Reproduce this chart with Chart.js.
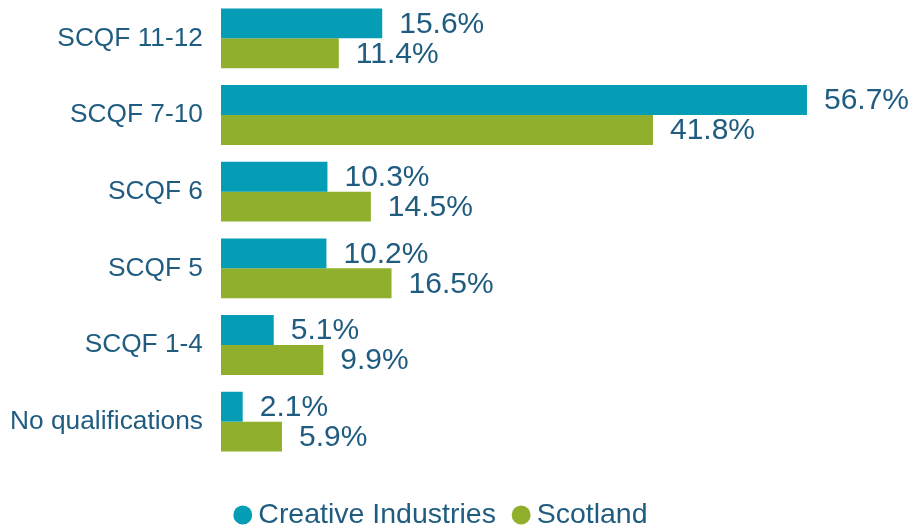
<!DOCTYPE html>
<html>
<head>
<meta charset="utf-8">
<script src="https://cdn.jsdelivr.net/npm/chart.js@4/dist/chart.umd.min.js"></script>
<style>
  html, body { margin: 0; padding: 0; background: #ffffff; }
  #wrap { width: 909px; height: 527px; position: relative; }
</style>
</head>
<body>
<div id="wrap"><canvas id="c"></canvas></div>
<script>
const categories = ['SCQF 11-12', 'SCQF 7-10', 'SCQF 6', 'SCQF 5', 'SCQF 1-4', 'No qualifications'];
const creativeIndustries = [15.6, 56.7, 10.3, 10.2, 5.1, 2.1];
const scotland = [11.4, 41.8, 14.5, 16.5, 9.9, 5.9];
const seriesNames = ['Creative Industries', 'Scotland'];

const TEXT = '#1F5C80';
const FONT = "Arial, 'Liberation Sans', sans-serif";

const valueLabels = {
  id: 'valueLabels',
  afterDatasetsDraw(chart) {
    const ctx = chart.ctx;
    ctx.save();
    ctx.font = '30px ' + FONT;
    ctx.fillStyle = TEXT;
    ctx.textAlign = 'left';
    ctx.textBaseline = 'middle';
    chart.data.datasets.forEach((ds, di) => {
      const meta = chart.getDatasetMeta(di);
      meta.data.forEach((bar, i) => {
        ctx.fillText(ds.data[i].toFixed(1) + '%', bar.x + 17, bar.y + 1);
      });
    });
    ctx.restore();
  }
};

const chart = new Chart(document.getElementById('c'), {
  type: 'bar',
  data: {
    labels: categories,
    datasets: [
      { label: seriesNames[0], data: creativeIndustries, backgroundColor: '#049DB5', categoryPercentage: 0.78, barPercentage: 1.0 },
      { label: seriesNames[1], data: scotland, backgroundColor: '#8FAF2D', categoryPercentage: 0.78, barPercentage: 1.0 }
    ]
  },
  options: {
    indexAxis: 'y',
    responsive: true,
    maintainAspectRatio: false,
    animation: false,
    layout: { padding: { left: 10, right: 29.9, top: 0, bottom: -12.25 } },
    scales: {
      x: {
        min: 0,
        max: 63.68,
        display: false,
        grid: { display: false }
      },
      y: {
        grid: { display: false, drawTicks: false },
        border: { display: false },
        ticks: {
          color: TEXT,
          font: { family: FONT, size: 26.3 },
          padding: 18
        },
        afterFit(scale) {
          scale.width = 211;
          scale.paddingTop = 0;
          scale.paddingBottom = 0;
        }
      }
    },
    plugins: {
      legend: {
        position: 'bottom',
        title: { display: true, text: '', font: { size: 10, lineHeight: 1 }, padding: { top: 6.75, bottom: 0 } },
        labels: {
          color: TEXT,
          font: { family: FONT, size: 28.5 },
          usePointStyle: true,
          pointStyle: 'circle',
          boxWidth: 2.5,
          boxHeight: 13.4,
          padding: 24
        }
      },
      tooltip: { enabled: false }
    }
  },
  plugins: [valueLabels]
});
</script>
</body>
</html>
